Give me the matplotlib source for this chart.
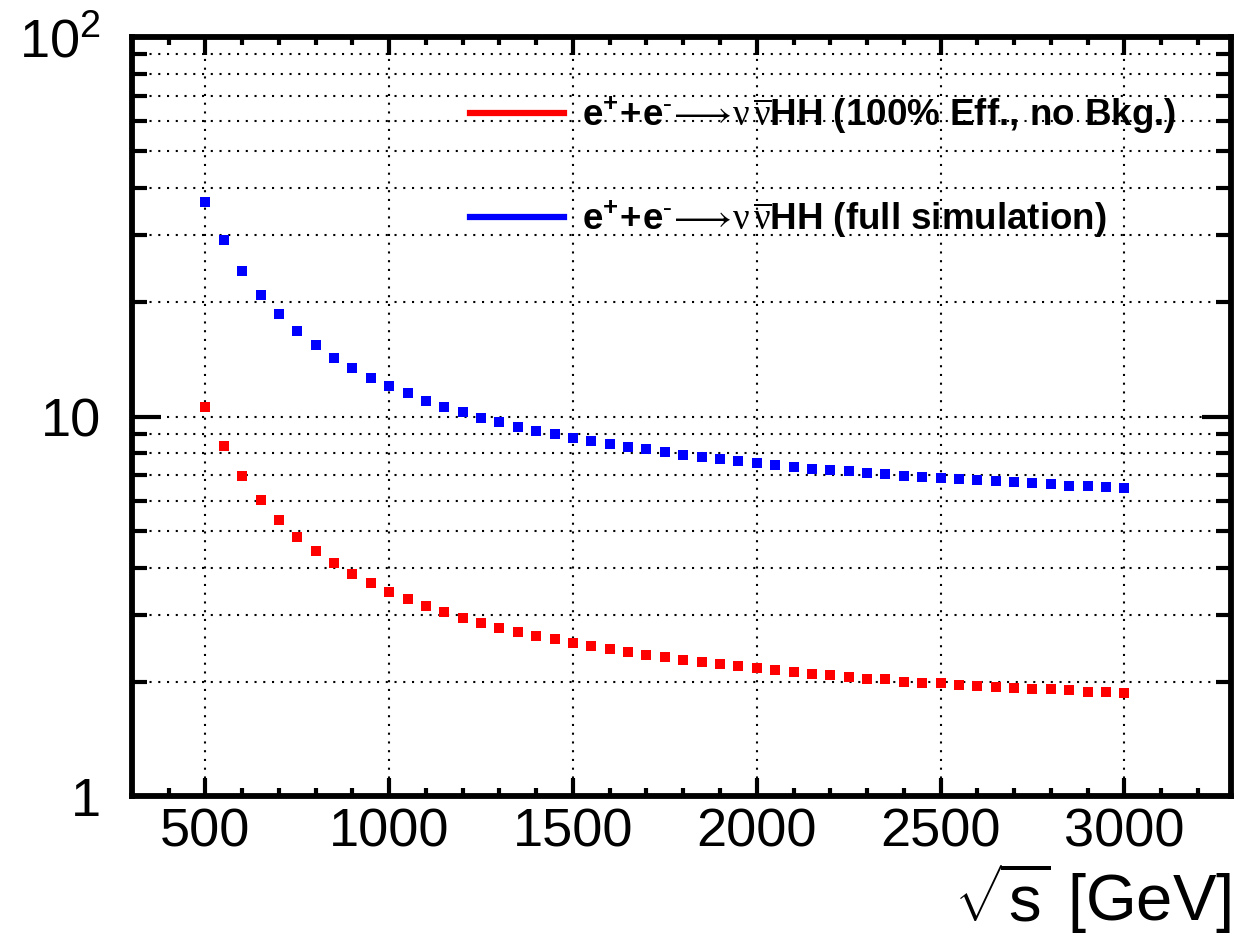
import matplotlib
matplotlib.use("Agg")
import matplotlib.pyplot as plt
from matplotlib.ticker import FixedLocator, MultipleLocator, NullFormatter

plt.rcParams["font.family"] = ["Liberation Sans", "DejaVu Sans"]
plt.rcParams["mathtext.fontset"] = "custom"
plt.rcParams["mathtext.rm"] = "Liberation Serif"
plt.rcParams["mathtext.sf"] = "Liberation Sans"
plt.rcParams["mathtext.bf"] = "Liberation Sans:bold"
plt.rcParams["mathtext.it"] = "Liberation Serif:italic"

# sqrt(s) points, 500 .. 3000 GeV in 50 GeV steps
sqrt_s = list(range(500, 3001, 50))

ideal = [10.58, 8.35, 6.96, 6.01, 5.33, 4.81, 4.43, 4.11, 3.85, 3.64,
         3.45, 3.31, 3.17, 3.05, 2.94, 2.86, 2.78, 2.71, 2.64, 2.60,
         2.53, 2.48, 2.44, 2.39, 2.36, 2.32, 2.29, 2.25, 2.23, 2.20,
         2.18, 2.15, 2.12, 2.10, 2.08, 2.06, 2.04, 2.03, 2.00, 1.99,
         1.98, 1.96, 1.95, 1.94, 1.93, 1.92, 1.91, 1.90, 1.885, 1.875,
         1.87]

fullsim = [36.8, 29.1, 24.2, 20.9, 18.6, 16.8, 15.4, 14.25, 13.4, 12.6,
           12.0, 11.5, 11.0, 10.6, 10.27, 9.9, 9.66, 9.39, 9.17, 9.02,
           8.80, 8.61, 8.47, 8.33, 8.20, 8.07, 7.92, 7.83, 7.73, 7.64,
           7.56, 7.46, 7.37, 7.28, 7.23, 7.19, 7.11, 7.04, 6.97, 6.93,
           6.90, 6.85, 6.79, 6.75, 6.72, 6.67, 6.63, 6.58, 6.55, 6.52,
           6.48]

process = (r"$\mathbf{e^{+}\!+\!e^{\text{-}}}\!\longrightarrow\!"
           r"\mathrm{\nu\,\overline{\nu}}$HH")
label_ideal = process + " (100% Eff., no Bkg.)"
label_full = process + " (full simulation)"

fig = plt.figure(figsize=(12.44, 9.41), dpi=100)
ax = fig.add_axes([0.106, 0.154, 0.8835, 0.8067])

ax.plot(sqrt_s, ideal, "s", color="#ff0000", markersize=6.5, markeredgewidth=0)
ax.plot(sqrt_s, fullsim, "s", color="#0000ff", markersize=6.5, markeredgewidth=0)

ax.set_yscale("log")
ax.set_xlim(300, 3290)
ax.set_ylim(1, 100)

ax.xaxis.set_major_locator(MultipleLocator(500))
ax.xaxis.set_minor_locator(MultipleLocator(100))
ax.yaxis.set_major_locator(FixedLocator([1, 10, 100]))
ax.yaxis.set_minor_locator(FixedLocator([2, 3, 4, 5, 6, 7, 8, 9,
                                         20, 30, 40, 50, 60, 70, 80, 90]))
ax.set_yticklabels(["1", "10", r"$\mathsf{10^{2}}$"])
ax.yaxis.set_minor_formatter(NullFormatter())

for s in ax.spines.values():
    s.set_linewidth(4.2)

ax.tick_params(axis="both", which="both", direction="in", top=True, right=True,
               width=3, color="black")
ax.tick_params(axis="x", which="major", length=13, labelsize=39, pad=8)
ax.tick_params(axis="x", which="minor", length=6)
ax.tick_params(axis="y", which="major", length=21, labelsize=39, pad=22)
ax.tick_params(axis="y", which="minor", length=11)

grid_kw = dict(color="black", linewidth=1.5, linestyle=(0, (1, 3.2)))
ax.grid(True, axis="x", which="major", **grid_kw)
ax.grid(True, axis="y", which="both", **grid_kw)

ax.set_xlabel(r"$\sqrt{\mathsf{s}}$ [GeV]", fontsize=47, loc="right", labelpad=2)

h1, = ax.plot([], [], color="#ff0000", linewidth=4.5)
h2, = ax.plot([], [], color="#0000ff", linewidth=4.5)
ax.legend([h1, h2], [label_ideal, label_full], loc="upper left",
          bbox_to_anchor=(0.3075, 0.924), frameon=False, borderpad=0,
          borderaxespad=0, handlelength=2.55, handletextpad=0.5,
          labelspacing=1.7, prop={"size": 26.5, "weight": "bold"})

fig.savefig("out.png", dpi=100)
